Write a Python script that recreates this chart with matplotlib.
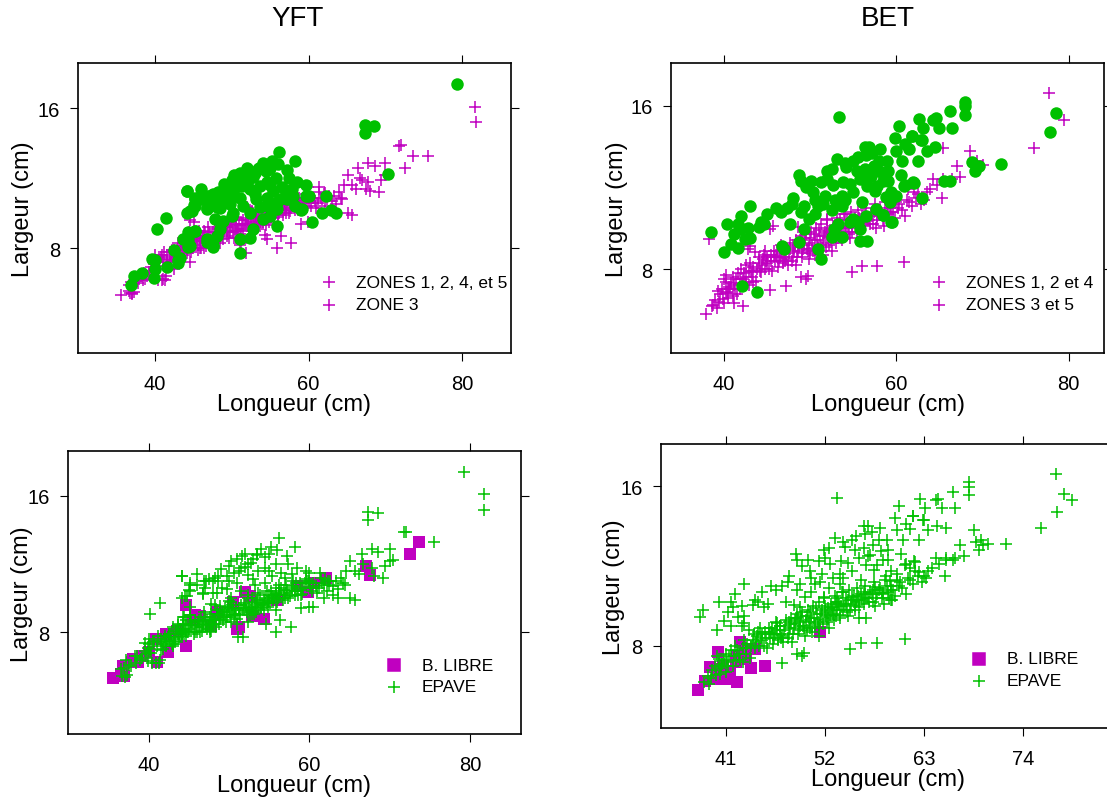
import numpy as np
import matplotlib.pyplot as plt

plt.rcParams['font.family'] = ['Liberation Sans', 'DejaVu Sans']

MAGENTA = '#C000C0'
GREEN = '#00C000'

# ---- YFT (longueur, largeur) ----
# zones 1, 2, 4, 5 - epave
yft_zones_epave = [
    (36.7, 5.45), (37.0, 5.4), (37.3, 5.5), (37.8, 6.0), (38.4, 6.2), (38.6, 6.6), (39.2, 6.5),
    (39.5, 6.9), (39.9, 7.1), (40.3, 6.8), (40.5, 7.4), (40.9, 6.2), (41.3, 6.2), (41.0, 7.2),
    (41.5, 7.6), (41.8, 7.0), (42.2, 7.5), (42.5, 7.9), (42.9, 7.3), (43.1, 7.7), (43.4, 8.1),
    (43.8, 7.6), (44.0, 8.0), (44.3, 8.4), (44.4, 8.9), (44.7, 7.8), (45.0, 8.2), (45.1, 9.5),
    (45.3, 8.6), (45.6, 7.9), (45.9, 8.3), (46.2, 8.7), (46.4, 8.0), (46.7, 8.5), (47.0, 8.9),
    (47.2, 8.2), (47.5, 8.6), (47.8, 9.1), (48.0, 8.4), (48.3, 8.8), (48.5, 9.3), (48.8, 8.5),
    (49.0, 9.0), (49.3, 8.7), (49.5, 9.4), (49.8, 8.9), (50.0, 9.2), (50.3, 8.6), (50.5, 9.6),
    (50.8, 9.1), (51.0, 8.8), (51.3, 9.4), (51.6, 12.5), (51.8, 7.75), (51.9, 9.7), (52.2, 9.2),
    (52.5, 9.5), (52.8, 10.0), (53.0, 9.3), (53.3, 9.8), (53.6, 9.5), (53.9, 10.2), (54.2, 9.6),
    (54.6, 8.5), (54.5, 10.0), (54.9, 9.8), (55.2, 10.4), (55.5, 9.9), (55.9, 8.0), (55.8, 10.3),
    (56.1, 10.0), (56.4, 8.7), (56.5, 10.6), (56.9, 10.2), (57.2, 10.5), (57.7, 8.3), (57.6, 10.1),
    (58.0, 10.7), (58.4, 10.4), (58.8, 10.9), (59.0, 9.4), (59.2, 10.6), (59.9, 9.5), (59.6, 11.1),
    (59.9, 11.5), (60.1, 10.6), (60.5, 10.9), (61.0, 10.3), (61.4, 11.2), (61.8, 10.8), (62.2, 10.4),
    (62.6, 11.0), (63.0, 10.7), (63.6, 10.55), (64.2, 10.9), (64.6, 11.6), (65.1, 10.0), (65.7, 9.9),
    (65.1, 12.2), (65.7, 11.6), (66.2, 11.4), (66.5, 12.6), (66.7, 12.0), (67.8, 12.9), (67.8, 11.8),
    (68.0, 11.3), (68.6, 12.7), (69.2, 11.2), (69.4, 11.9), (70.0, 12.9), (70.0, 12.2), (71.8, 13.86),
    (72.0, 13.9), (75.5, 13.29), (81.7, 16.1), (81.8, 15.2),
    (42.0, 7.8), (42.7, 7.5), (43.6, 7.9), (44.1, 7.7), (44.9, 8.0), (45.4, 8.4), (46.0, 8.0),
    (46.5, 8.9), (47.3, 8.7), (47.9, 8.5), (48.6, 9.0), (49.2, 9.2), (49.9, 9.5), (50.6, 9.0),
    (51.2, 9.1), (52.0, 9.4), (52.6, 9.0), (53.2, 9.7), (54.0, 9.4), (54.7, 9.7), (55.4, 10.1),
    (56.2, 10.4), (57.0, 10.0), (57.9, 10.4), (58.6, 10.2), (43.0, 8.3), (44.6, 8.7), (46.9, 9.2),
    (48.2, 9.6), (50.2, 9.8), (52.4, 10.2), (40.0, 7.6), (41.2, 7.8), (40.4, 6.2), (41.4, 6.4),
    (36.6, 5.87),
    (40.2, 7.0), (40.7, 7.5), (41.6, 7.3), (42.1, 7.2), (42.4, 7.7), (42.8, 7.9), (43.3, 7.5),
    (43.9, 8.2), (44.2, 7.9), (44.5, 8.1), (45.2, 8.5), (45.8, 8.0), (46.3, 8.4), (46.6, 8.1),
    (47.1, 8.4), (47.6, 8.9), (48.1, 8.7), (48.4, 8.3), (48.9, 8.8), (49.4, 9.0), (49.6, 8.6),
    (50.1, 8.9), (50.4, 9.3), (50.9, 9.4), (51.4, 9.0), (51.7, 9.3), (52.1, 9.6), (52.7, 9.3),
    (53.1, 9.1), (53.5, 9.9), (53.8, 9.6), (54.3, 9.9), (54.8, 9.5), (55.1, 9.7), (55.6, 10.0),
    (56.0, 9.8), (56.3, 10.2), (56.7, 9.9), (57.1, 10.3), (57.4, 10.0), (57.8, 10.6), (58.2, 10.2),
    (58.9, 10.5), (59.4, 10.9), (60.3, 10.4), (60.8, 10.7), (61.2, 10.6), (61.6, 10.9), (62.0, 11.1),
    (62.4, 10.8), (63.3, 11.0), (63.9, 11.2), (64.4, 10.8), (43.7, 8.4), (45.7, 8.7), (47.7, 8.1),
    (49.7, 9.3), (51.5, 9.6), (53.4, 9.2), (55.0, 10.2), (56.8, 10.5), (58.3, 10.9), (46.1, 8.6),
    (48.7, 9.1), (50.7, 9.0), (52.9, 9.4), (54.4, 9.3), (41.9, 7.4), (39.7, 6.7), (38.9, 6.4),
    (37.6, 6.1), (60.0, 10.9), (61.3, 11.5),
]
# zones 1, 2, 4, 5 - banc libre
yft_zones_libre = [
    (73.6, 13.28), (72.5, 12.6), (67.0, 11.9), (67.5, 11.36), (62.1, 11.17), (60.6, 10.9),
    (59.8, 10.35), (58.5, 10.7), (52.0, 10.35), (51.2, 8.3), (52.8, 8.98), (50.5, 9.7), (45.7, 9.0),
    (45.5, 8.7), (44.6, 9.62), (44.6, 7.2), (42.2, 7.9), (42.4, 6.83), (40.85, 7.6), (40.0, 6.83),
    (41.06, 6.24), (39.2, 6.63), (38.7, 6.24), (37.9, 6.24), (38.1, 6.43), (36.85, 6.04),
    (36.97, 5.45), (35.6, 5.3), (36.6, 5.55), (46.4, 8.98), (47.7, 8.39), (50.5, 9.76), (51.0, 8.19),
    (52.6, 10.15), (53.0, 8.98), (54.3, 8.78), (56.0, 9.9), (48.5, 9.2), (43.5, 8.1), (58.4, 10.74),
]
# zone 3 - epave
yft_zone3_epave = [
    (79.3, 17.41), (67.3, 15.04), (67.3, 14.59), (68.5, 15.0), (70.4, 12.22), (56.2, 13.51),
    (58.2, 13.0), (54.0, 12.9), (55.2, 13.0), (57.2, 12.48), (57.4, 11.99), (50.3, 12.2),
    (53.5, 12.6), (52.4, 12.0), (51.5, 11.76), (59.6, 11.6), (60.0, 11.0), (62.3, 11.0),
    (59.0, 10.19), (60.4, 9.5), (61.8, 10.04), (62.9, 10.2), (63.6, 10.0), (44.1, 11.3),
    (45.2, 10.9), (45.0, 10.5), (44.5, 10.1), (46.9, 11.0), (47.5, 11.1), (48.2, 11.2), (48.6, 11.0),
    (46.8, 10.3), (41.4, 9.7), (40.2, 9.09), (45.2, 9.0), (44.3, 8.5), (44.4, 8.2), (44.6, 8.1),
    (42.5, 7.9), (43.0, 7.3), (43.3, 7.45), (41.5, 6.95), (40.0, 7.3), (40.0, 6.8), (39.9, 6.3),
    (38.3, 6.6), (37.2, 6.4), (36.9, 5.92), (46.8, 8.5), (47.6, 8.2), (51.1, 7.7),
    (53.44, 12.52), (52.79, 12.05), (51.93, 11.85), (51.27, 11.57), (52.35, 11.38), (53.66, 11.57),
    (54.53, 11.76), (55.4, 11.28), (56.27, 10.8), (54.53, 10.9), (53.2, 10.8), (50.6, 11.48),
    (49.75, 11.28), (48.67, 11.28), (48.0, 11.0), (47.14, 11.0), (46.7, 10.23), (48.0, 10.33),
    (49.1, 10.62), (49.75, 10.52), (50.2, 10.04), (51.48, 10.42), (52.35, 10.04), (53.66, 10.33),
    (54.74, 10.42), (55.83, 10.62), (57.14, 10.8), (58.2, 10.42), (59.1, 10.23), (59.7, 11.0),
    (55.83, 10.23), (54.96, 9.85), (55.83, 9.28), (54.1, 9.66), (52.8, 9.09), (52.35, 8.61),
    (51.05, 8.51), (48.45, 9.09), (48.0, 8.7), (47.57, 8.04), (46.7, 8.33), (44.3, 8.04),
    (43.66, 8.51), (44.3, 8.9), (45.19, 8.99), (44.1, 10.04), (44.76, 10.13), (45.19, 10.42),
    (45.19, 10.8), (44.1, 11.28), (47.8, 9.66), (48.88, 9.56), (49.97, 9.85), (43.0, 7.18),
    (39.55, 7.37),
    (49.0, 11.7), (50.0, 11.9), (51.0, 12.3), (52.0, 12.6), (53.0, 12.3), (54.5, 12.4), (55.8, 12.0),
    (56.5, 11.5), (57.8, 11.4), (58.5, 11.8), (55.0, 12.6), (56.0, 12.8), (50.0, 11.0), (51.0, 10.9),
    (53.0, 11.1), (55.0, 11.6), (57.0, 11.2), (58.0, 11.0), (46.0, 10.8), (47.0, 10.6), (48.5, 10.3),
    (46.0, 11.4),
]
yft_zone3_libre = []

# ---- BET (longueur, largeur) ----
bet_zones_epave = [
    (38.6, 6.2), (39.0, 6.5), (39.2, 6.1), (39.5, 6.8), (39.9, 6.55), (40.0, 7.5), (40.2, 7.35),
    (40.3, 6.9), (40.6, 7.1), (41.0, 6.7), (41.1, 7.2), (41.4, 7.5), (41.8, 7.0), (41.9, 7.5),
    (42.3, 7.8), (42.6, 7.3), (42.8, 8.98), (42.9, 7.9), (43.2, 7.6), (43.4, 8.1), (43.6, 8.82),
    (43.7, 7.4), (44.0, 8.3), (44.2, 7.9), (44.5, 8.5), (44.7, 8.0), (45.0, 8.3), (45.3, 9.96),
    (45.7, 10.1), (45.4, 8.7), (45.6, 7.9), (45.9, 8.4), (46.1, 8.9), (46.3, 8.1), (46.5, 8.6),
    (46.8, 8.3), (47.0, 9.0), (47.2, 7.16), (47.2, 8.5), (47.5, 8.8), (47.7, 9.3), (47.9, 8.4),
    (48.1, 8.9), (48.3, 9.4), (48.5, 8.6), (48.7, 9.1), (48.9, 7.6), (48.9, 9.6), (49.1, 8.8),
    (49.3, 9.2), (49.5, 7.5), (49.5, 9.7), (49.7, 7.67), (49.7, 8.9), (49.9, 9.3), (50.1, 9.8),
    (50.3, 8.9), (50.5, 9.4), (50.7, 10.0), (50.9, 9.1), (51.1, 9.6), (51.3, 10.2), (51.5, 9.3),
    (51.7, 9.8), (51.9, 10.4), (52.1, 9.5), (52.3, 9.9), (52.5, 8.9), (52.7, 10.1), (52.9, 9.6),
    (53.1, 10.5), (53.3, 9.8), (53.5, 10.2), (53.7, 9.4), (53.9, 10.7), (54.1, 10.0), (54.3, 10.4),
    (54.5, 9.7), (54.8, 7.87), (54.7, 10.8), (54.9, 10.1), (55.2, 10.5), (55.4, 9.8), (55.6, 10.9),
    (55.8, 10.3), (56.0, 8.16), (56.0, 10.6), (56.3, 10.1), (56.5, 11.0), (56.8, 10.4), (57.0, 10.7),
    (57.3, 10.2), (57.5, 11.2), (57.8, 8.16), (57.8, 10.6), (58.1, 10.9), (58.4, 10.4), (58.7, 11.3),
    (59.0, 10.7), (59.3, 11.0), (59.6, 10.78), (60.0, 11.3), (60.2, 11.0), (60.85, 8.33),
    (61.0, 10.6), (61.4, 11.92), (61.5, 11.3), (62.0, 11.76), (62.3, 11.5), (62.8, 11.2),
    (63.5, 11.76), (63.9, 11.9), (64.3, 12.4), (64.7, 12.1), (65.3, 11.5), (65.4, 13.93),
    (65.45, 12.4), (66.4, 12.4), (67.05, 13.06), (67.4, 12.5), (68.6, 13.8), (69.3, 13.3),
    (70.1, 13.1), (76.0, 13.91), (77.7, 16.62), (79.4, 15.31), (38.2, 9.47),
    (44.8, 8.9), (45.8, 8.6), (46.6, 9.2), (47.4, 8.2), (48.4, 8.2), (49.0, 9.4), (49.8, 8.5),
    (50.6, 8.7), (51.4, 8.9), (52.2, 9.2), (53.0, 9.3), (53.8, 10.0), (54.6, 9.5), (55.5, 10.2),
    (56.6, 10.4), (57.6, 10.0), (58.6, 10.1), (59.8, 10.5), (50.0, 9.5), (51.0, 9.9), (52.0, 10.0),
    (49.2, 9.0), (48.0, 9.2), (47.0, 8.6), (46.0, 8.7), (45.0, 8.6), (43.0, 8.3), (42.0, 8.0),
    (41.0, 7.6), (40.5, 7.0), (43.0, 9.14), (48.6, 10.05), (51.9, 10.45), (54.0, 10.7),
    (53.0, 9.88),
    (39.4, 6.4), (39.8, 7.0), (40.4, 6.6), (40.8, 7.3), (41.3, 7.0), (41.6, 7.8), (42.1, 7.3),
    (42.5, 7.6), (42.9, 7.2), (43.3, 7.9), (43.8, 8.0), (44.1, 8.6), (44.4, 8.2), (44.9, 8.4),
    (45.2, 8.0), (45.5, 8.4), (45.8, 8.9), (46.2, 8.6), (46.7, 8.8), (47.1, 8.4), (47.6, 9.0),
    (48.0, 8.6), (48.2, 9.1), (48.6, 8.9), (49.0, 8.6), (49.4, 9.5), (49.6, 9.0), (50.0, 8.8),
    (50.2, 9.2), (50.4, 9.7), (50.8, 9.4), (51.2, 9.2), (51.6, 9.6), (52.0, 9.7), (52.4, 9.4),
    (52.8, 9.8), (53.2, 9.5), (53.6, 10.1), (54.0, 9.8), (54.4, 10.1), (54.8, 9.8), (55.1, 10.3),
    (55.7, 10.5), (56.1, 10.3), (56.4, 10.7), (56.9, 10.2), (57.2, 10.6), (57.7, 10.4), (58.0, 10.8),
    (58.5, 10.6), (58.9, 11.0), (59.4, 10.8), (60.3, 11.2), (60.6, 10.9), (61.2, 11.4), (61.8, 11.1),
    (62.5, 11.7), (63.2, 11.4), (44.6, 8.7), (46.4, 8.4), (48.8, 9.4), (51.8, 9.1), (53.4, 10.4),
    (55.3, 10.0), (57.4, 10.8), (59.1, 10.4),
]
bet_zones_libre = [
    (37.96, 5.81), (38.7, 6.26), (39.26, 6.93), (40.18, 7.71), (40.0, 6.35), (40.18, 6.85),
    (40.73, 7.01), (41.1, 6.35), (41.48, 6.76), (42.2, 6.21), (42.6, 8.18), (43.1, 7.85),
    (42.4, 7.35), (43.3, 7.35), (45.36, 6.98), (44.25, 7.85), (42.2, 7.51), (51.5, 8.7),
]
bet_zone3_epave = [
    (78.55, 15.63), (77.8, 14.73), (68.0, 16.2), (68.0, 15.97), (68.0, 15.54), (66.2, 15.72),
    (64.3, 15.3), (64.6, 15.38), (63.1, 14.9), (62.6, 15.35), (60.25, 15.02), (61.8, 14.53),
    (61.0, 14.12), (61.5, 13.88), (63.0, 14.3), (64.5, 14.0), (60.0, 13.8), (60.7, 13.3),
    (53.3, 15.43), (56.3, 14.0), (56.8, 14.0), (56.5, 13.6), (58.0, 13.3), (53.1, 13.4),
    (51.9, 12.8), (54.2, 12.98), (55.4, 12.82), (56.4, 12.9), (57.4, 13.06), (48.75, 12.6),
    (48.9, 12.3), (50.1, 12.33), (51.3, 12.25), (52.6, 12.1), (53.8, 12.25), (54.6, 12.17),
    (55.0, 11.76), (50.3, 11.76), (51.7, 11.6), (52.9, 11.4), (53.7, 11.1), (52.5, 10.9),
    (53.7, 11.6), (55.8, 12.4), (57.0, 12.57), (58.2, 12.74), (59.0, 12.33), (57.8, 12.08),
    (56.6, 12.08), (59.4, 11.76), (60.0, 11.6), (59.2, 11.27), (58.8, 11.51), (60.85, 12.08),
    (61.95, 12.25), (63.0, 11.5), (65.5, 12.33), (66.2, 12.33), (68.75, 13.23), (69.55, 13.06),
    (69.1, 12.82), (72.1, 13.13), (43.0, 11.1), (44.25, 10.29), (44.07, 10.05), (44.6, 10.2),
    (40.3, 10.2), (41.6, 10.2), (41.8, 9.96), (41.2, 9.72), (40.8, 9.23), (41.6, 9.02),
    (40.0, 8.82), (38.46, 9.8), (43.0, 9.5), (42.4, 9.47), (46.55, 10.78), (47.3, 10.98),
    (47.9, 11.19), (48.9, 10.78), (49.3, 11.1), (47.7, 10.2), (49.8, 10.45), (50.5, 10.7),
    (50.9, 11.1), (56.5, 10.6), (57.6, 10.94), (58.4, 10.65), (59.5, 10.29), (54.6, 10.29),
    (55.6, 10.29), (55.0, 10.45), (55.8, 9.96), (53.2, 10.2), (52.75, 9.96), (55.8, 9.39),
    (56.6, 9.39), (52.55, 9.56), (53.7, 9.56), (50.9, 8.98), (51.3, 8.5), (49.3, 9.96),
    (48.7, 9.31), (46.7, 9.14), (47.0, 9.0), (61.8, 14.53), (62.9, 14.32), (58.9, 13.3),
    (59.05, 12.8), (58.1, 13.9), (62.0, 12.2), (61.0, 12.1), (58.5, 10.65), (59.4, 10.29),
    (55.0, 13.3), (54.0, 13.2), (52.5, 12.9), (49.5, 12.0), (50.5, 11.4), (51.5, 11.2), (54.0, 11.4),
    (56.0, 11.3), (57.5, 11.8), (52.0, 12.4), (48.0, 11.5), (46.0, 11.0), (45.0, 10.7), (42.0, 10.6),
    (42.8, 10.0), (56.8, 12.5), (58.5, 12.3), (60.5, 12.6), (62.5, 13.3), (63.5, 13.8), (65.0, 14.9),
    (66.5, 14.9), (59.8, 14.4), (57.2, 13.7), (55.5, 13.5),
]
bet_zone3_libre = [(42.1, 7.18), (43.85, 6.89)]

yft_ticks_x = [40, 60, 80]
bet_ticks_x_top = [40, 60, 80]
bet_ticks_x_bottom = [41, 52, 63, 74]
ticks_y = [8, 16]

W, H = 1107, 803
fig = plt.figure(figsize=(W / 100, H / 100), dpi=100)

PLUS_MS, CIRC_MS, SQ_MS = 9.0, 9.0, 8.3


def xy(*groups):
    pts = np.array([p for g in groups for p in g])
    return pts[:, 0], pts[:, 1]


def panel(left, top, right, bottom, xlim, ylim, xticks):
    ax = fig.add_axes([left / W, 1 - bottom / H, (right - left) / W, (bottom - top) / H])
    ax.set_xlim(xlim)
    ax.set_ylim(ylim)
    ax.set_xticks(xticks)
    ax.set_yticks(ticks_y)
    ax.tick_params(direction='out', length=5.8, width=0.8, top=True, right=True,
                   labelsize=14.5, colors='black')
    ax.tick_params(axis='x', pad=9.5)
    ax.tick_params(axis='y', pad=7.5)
    for s in ax.spines.values():
        s.set_linewidth(1.2)
    return ax


def key(ax, x0, entries):
    ys = [0.244, 0.167]
    for (marker, color, ms, label), yy in zip(entries, ys):
        ax.plot([x0], [yy], marker, color=color, ms=ms, mew=1.1, transform=ax.transAxes,
                clip_on=False)
        ax.text(x0 + 0.062, yy, label, fontsize=12.5, va='center', ha='left',
                transform=ax.transAxes)


# YFT by zone
ax1 = panel(78.4, 64, 511.2, 354, (30.0, 86.4), (2.0, 18.6), yft_ticks_x)
x, y = xy(yft_zones_epave, yft_zones_libre)
ax1.plot(x, y, '+', color=MAGENTA, ms=PLUS_MS, mew=1.1, ls='none')
x, y = xy(yft_zone3_epave, yft_zone3_libre)
ax1.plot(x, y, 'o', color=GREEN, ms=CIRC_MS, mew=0, ls='none')
key(ax1, 0.58, [('+', MAGENTA, PLUS_MS, 'ZONES 1, 2, 4, et 5'), ('+', MAGENTA, PLUS_MS, 'ZONE 3')])

# BET by zone
ax2 = panel(671, 64, 1104.3, 354, (33.84, 84.13), (3.89, 18.09), bet_ticks_x_top)
x, y = xy(bet_zones_epave, bet_zones_libre)
ax2.plot(x, y, '+', color=MAGENTA, ms=PLUS_MS, mew=1.1, ls='none')
x, y = xy(bet_zone3_epave, bet_zone3_libre)
ax2.plot(x, y, 'o', color=GREEN, ms=CIRC_MS, mew=0, ls='none')
key(ax2, 0.619, [('+', MAGENTA, PLUS_MS, 'ZONES 1, 2 et 4'), ('+', MAGENTA, PLUS_MS, 'ZONES 3 et 5')])

# YFT by school type
ax3 = panel(68, 452.3, 520.6, 735, (29.95, 86.3), (2.03, 18.62), yft_ticks_x)
x, y = xy(yft_zones_libre, yft_zone3_libre)
ax3.plot(x, y, 's', color=MAGENTA, ms=SQ_MS, mew=0, ls='none')
x, y = xy(yft_zones_epave, yft_zone3_epave)
ax3.plot(x, y, '+', color=GREEN, ms=PLUS_MS, mew=1.1, ls='none')
key(ax3, 0.72, [('s', MAGENTA, SQ_MS, 'B. LIBRE'), ('+', GREEN, PLUS_MS, 'EPAVE')])

# BET by school type
ax4 = panel(661.2, 445, 1114.3, 729, (33.84, 84.13), (3.89, 18.12), bet_ticks_x_bottom)
x, y = xy(bet_zones_libre, bet_zone3_libre)
ax4.plot(x, y, 's', color=MAGENTA, ms=SQ_MS, mew=0, ls='none')
x, y = xy(bet_zones_epave, bet_zone3_epave)
ax4.plot(x, y, '+', color=GREEN, ms=PLUS_MS, mew=1.1, ls='none')
key(ax4, 0.701, [('s', MAGENTA, SQ_MS, 'B. LIBRE'), ('+', GREEN, PLUS_MS, 'EPAVE')])

# titles and axis labels
fig.text(298 / W, 1 - 19 / H, 'YFT', fontsize=20, ha='center', va='center')
fig.text(888 / W, 1 - 19 / H, 'BET', fontsize=20, ha='center', va='center')
for xl, yl in [(294, 405), (888, 405), (294, 786), (888, 780)]:
    fig.text(xl / W, 1 - yl / H, 'Longueur (cm)', fontsize=17, ha='center', va='center')
for xl, yl in [(23.5, 209), (617.5, 209), (22, 594), (614, 587)]:
    fig.text(xl / W, 1 - yl / H, 'Largeur (cm)', fontsize=17, ha='center', va='center',
             rotation=90)

fig.savefig('out.png', dpi=100)
